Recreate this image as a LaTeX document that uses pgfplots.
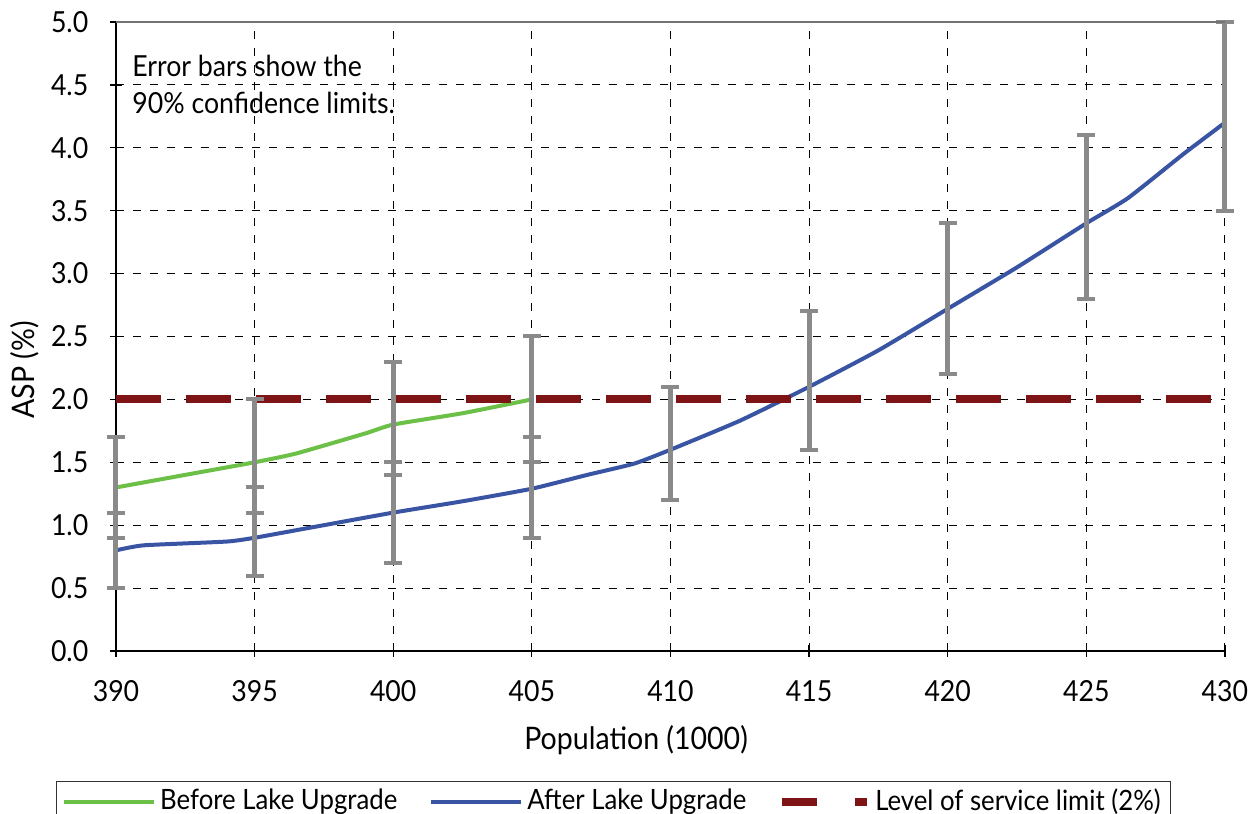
\documentclass[border=0pt]{standalone}
\usepackage{pgfplots}
\pgfplotsset{compat=1.18}
\usepackage{fontspec}
\setmainfont{Lato}[FakeStretch=0.92]
\definecolor{cgreen}{HTML}{6CBF47}
\definecolor{cblue}{HTML}{3A54A4}
\definecolor{cred}{HTML}{7E1416}
\definecolor{cgray}{HTML}{8A8A8A}
\pgfplotsset{
  leglineimg/.style={legend image code/.code={\draw[##1] (0pt,0pt) -- (45pt,0pt);}},
  legdashimg/.style={legend image code/.code={\draw[##1, dash pattern=on 17.5pt off 19pt on 6pt off 100pt] (0pt,0pt) -- (42.5pt,0pt);}},
}
\begin{document}
\fontsize{14}{17}\selectfont
\begin{tikzpicture}
\begin{axis}[
  scale only axis, width=554.5pt, height=314.5pt,
  xmin=390, xmax=430, ymin=0, ymax=5,
  xtick={390,395,...,430}, ytick={0,0.5,...,5},
  axis lines*=left, axis line style={-, black, line width=0.9pt},
  tick align=center, major tick length=6pt, tick style={black, line width=0.6pt},
  grid=major, grid style={black, line width=0.5pt, dash pattern=on 4pt off 4.5pt},
  /pgf/number format/assume math mode=true,
  yticklabel style={/pgf/number format/.cd, fixed, fixed zerofill, precision=1, /tikz/.cd, xshift=-6pt},
  xticklabel style={/pgf/number format/.cd, fixed, precision=0, /tikz/.cd, yshift=-7pt},
  ticklabel style={font=\fontsize{14.5}{17}\selectfont},
  xlabel={Population (1000)}, ylabel={ASP (\%)},
  label style={font=\fontsize{15.5}{18}\selectfont},
  xlabel style={at={(axis description cs:0.469,-0.141)}, anchor=center},
  ylabel style={at={(axis description cs:-0.082,0.447)}, anchor=center},
  legend style={at={(axis description cs:0.4486,-0.2067)}, anchor=north,
    legend columns=3, draw=black!80, line width=0.6pt,
    font=\fontsize{14}{15}\selectfont, inner xsep=3pt, inner ysep=1.5pt,
    /tikz/every even column/.append style={column sep=14pt}},
  legend cell align=left,
  clip=false,
]
\addplot[cgreen, line width=2pt, smooth, tension=0.3, leglineimg] coordinates {
(390,1.30) (393,1.42) (395,1.50) (396.5,1.57) (399,1.73) (400,1.80) (402.5,1.89) (405,2.00)};
\addlegendentry{Before Lake Upgrade}
\addplot[cblue, line width=2pt, smooth, tension=0.3, leglineimg] coordinates {
(390,0.80) (391,0.84) (394,0.87) (395,0.90) (396.5,0.96) (400,1.10) (402.5,1.19) (405,1.29) (407,1.40) (408.7,1.49) (410,1.60) (412.5,1.83) (415,2.10) (417.5,2.39) (420,2.72) (422.5,3.05) (425,3.40) (426.5,3.60) (428.5,3.95) (430,4.20)};
\addlegendentry{After Lake Upgrade}
\addplot[cred, line width=4pt, dash pattern=on 22.5pt off 12.5pt, legdashimg] coordinates {(390,2) (430,2)};
\addlegendentry{Level of service limit (2\%)}
% error bars: before
\addplot[draw=none, forget plot, error bars/.cd, y dir=both, y explicit,
  error bar style={cgray, line width=2.5pt},
  error mark options={cgray, rotate=90, mark size=4.5pt, line width=2pt}]
  table[x=x, y=y, y error plus=ep, y error minus=em] {
x y ep em
390 1.30 0.40 0.40
395 1.50 0.50 0.40
400 1.80 0.50 0.40
405 2.00 0.50 0.50
};
% error bars: after
\addplot[draw=none, forget plot, error bars/.cd, y dir=both, y explicit,
  error bar style={cgray, line width=2.5pt},
  error mark options={cgray, rotate=90, mark size=4.5pt, line width=2pt}]
  table[x=x, y=y, y error plus=ep, y error minus=em] {
x y ep em
390 0.80 0.30 0.30
395 0.90 0.40 0.30
400 1.10 0.40 0.40
405 1.30 0.40 0.40
410 1.60 0.50 0.40
415 2.10 0.60 0.50
420 2.70 0.70 0.50
425 3.40 0.70 0.60
430 4.20 0.80 0.70
};
\draw[black!55, line width=0.8pt] (rel axis cs:0,1) -- (rel axis cs:1,1);
\node[anchor=north west, align=left, inner sep=0pt, font=\fontsize{14.5}{18.3}\selectfont]
  at (rel axis cs:0.0144,0.948) {Error bars show the\\90\% confidence limits.};
\coordinate (BBsw) at (rel axis cs:-0.1046,-0.2591);
\coordinate (BBne) at (rel axis cs:1.0280,1.035);
\end{axis}
\pgfresetboundingbox
\path[use as bounding box] (BBsw) rectangle (BBne);
\end{tikzpicture}
\end{document}
